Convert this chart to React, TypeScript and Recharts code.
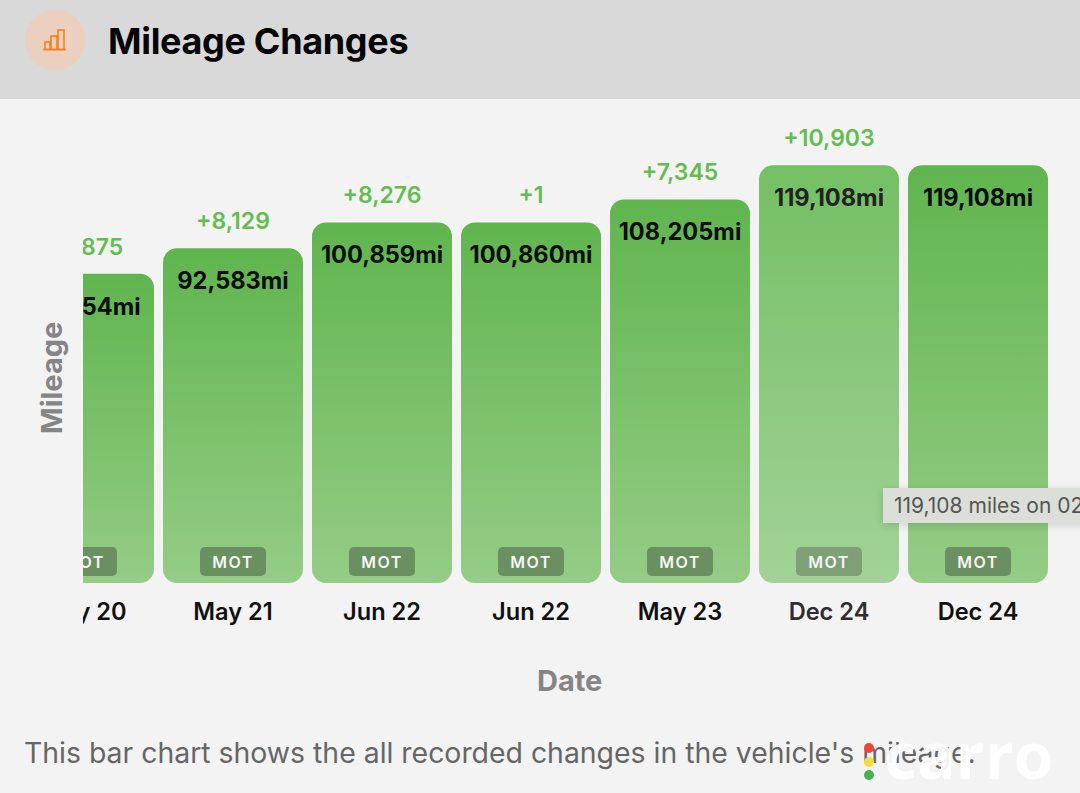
import { BarChart, Bar, XAxis, YAxis, Cell, LabelList } from "recharts";

const months = ["May 20", "May 21", "Jun 22", "Jun 22", "May 23", "Dec 24", "Dec 24"];
const mileage = [84454, 92583, 100859, 100860, 108205, 119108, 119108];
const changes = ["+8,875", "+8,129", "+8,276", "+1", "+7,345", "+10,903", "+0"];
const showChange = [true, true, true, true, true, true, false];

// The source axis doesn't start at zero, so bars run from this floor up
const Y_MIN = -14480;
const Y_MAX = 140000;
const HOVERED = 5;

const FONT = "Inter, sans-serif";

const rows = months.map((month, i) => ({
  month,
  span: [Y_MIN, mileage[i]],
  changeText: showChange[i] ? changes[i] : "",
  milesText: mileage[i].toLocaleString("en-GB") + "mi",
  badge: "MOT",
}));

function DateTick({ x, y, index, payload }: any) {
  return (
    <text
      x={x + 0.5}
      y={y + 29}
      textAnchor="middle"
      fontFamily={FONT}
      fontSize={23.6}
      fontWeight={600}
      fill={index === HOVERED ? "#2e2e2e" : "#111"}
    >
      {payload.value}
    </text>
  );
}

function ChangeLabel({ x, y, width, value }: any) {
  return (
    <text
      x={x + width / 2}
      y={y - 19}
      textAnchor="middle"
      fontFamily={FONT}
      fontSize={23}
      fontWeight={600}
      fill="#63bd50"
    >
      {value}
    </text>
  );
}

function MilesLabel({ x, y, width, value, index }: any) {
  return (
    <text
      x={x + width / 2}
      y={y + 41}
      textAnchor="middle"
      fontFamily={FONT}
      fontSize={23.6}
      fontWeight={700}
      fill={index === HOVERED ? "#222" : "#0c0c0c"}
    >
      {value}
    </text>
  );
}

function Badge({ x, y, width, height, value, index }: any) {
  const cx = x + width / 2;
  const bottom = y + height;
  return (
    <g>
      <rect
        x={cx - 33}
        y={bottom - 36}
        width={66}
        height={29}
        rx={5}
        fill={index === HOVERED ? "#7f9f77" : "#6a8f60"}
      />
      <text
        x={cx}
        y={bottom - 15.5}
        textAnchor="middle"
        fontFamily={FONT}
        fontSize={16}
        fontWeight={600}
        letterSpacing={1.5}
        fill="#f4f7f2"
      >
        {value}
      </text>
    </g>
  );
}

function ChartIcon() {
  return (
    <svg width="60" height="60" style={{ position: "absolute", left: 25, top: 10 }}>
      <circle cx="30" cy="30" r="30" fill="#ebcfbf" />
      <g fill="none" stroke="#f5811f" strokeWidth="1.6">
        <path d="M18 39.5H41" />
        <rect x="20" y="32" width="5" height="7.5" />
        <rect x="26" y="26" width="6" height="13.5" />
        <rect x="33" y="20" width="6" height="19.5" />
      </g>
    </svg>
  );
}

export default function App() {
  return (
    <div
      style={{
        position: "fixed",
        left: 0,
        top: 0,
        width: 1080,
        height: 793,
        overflow: "hidden",
        background: "#f3f3f3",
        fontFamily: FONT,
      }}
    >
      <div style={{ position: "absolute", left: 0, top: 0, width: 1080, height: 99, background: "#d9d9d9" }} />
      <ChartIcon />
      <div
        style={{
          position: "absolute",
          left: 108,
          top: 19,
          fontSize: 36,
          lineHeight: "44px",
          fontWeight: 700,
          letterSpacing: -0.33,
          color: "#050505",
          whiteSpace: "nowrap",
        }}
      >
        Mileage Changes
      </div>

      <div
        style={{
          position: "absolute",
          left: 51,
          top: 378,
          transform: "translate(-50%, -50%) rotate(-90deg)",
          fontSize: 29,
          fontWeight: 700,
          color: "#858585",
          whiteSpace: "nowrap",
        }}
      >
        Mileage
      </div>

      {/* scrolled chart: the first bar is cut off at the left edge */}
      <div style={{ position: "absolute", left: 83, top: 100, width: 997, height: 560, overflow: "hidden" }}>
        <div style={{ position: "absolute", left: -83, top: 0 }}>
          <BarChart
            width={1080}
            height={560}
            data={rows}
            margin={{ top: 0, right: 28, bottom: 0, left: 9 }}
            barSize={140}
          >
            <defs>
              <linearGradient id="barFill" x1="0" y1="0" x2="0" y2="1">
                <stop offset="0%" stopColor="#60b54e" />
                <stop offset="100%" stopColor="#95cc86" />
              </linearGradient>
              <linearGradient id="barFillHover" x1="0" y1="0" x2="0" y2="1">
                <stop offset="0%" stopColor="#74bf64" />
                <stop offset="100%" stopColor="#a2d297" />
              </linearGradient>
            </defs>
            <XAxis
              dataKey="month"
              axisLine={false}
              tickLine={false}
              interval={0}
              height={77}
              tick={<DateTick />}
            />
            <YAxis hide domain={[Y_MIN, Y_MAX]} />
            <Bar dataKey="span" radius={14} isAnimationActive={false}>
              {rows.map((r, i) => (
                <Cell key={i} fill={i === HOVERED ? "url(#barFillHover)" : "url(#barFill)"} />
              ))}
              <LabelList dataKey="changeText" content={<ChangeLabel />} />
              <LabelList dataKey="milesText" content={<MilesLabel />} />
              <LabelList dataKey="badge" content={<Badge />} />
            </Bar>
          </BarChart>
        </div>
      </div>

      <div
        style={{
          position: "absolute",
          left: 537,
          top: 663,
          fontSize: 29,
          fontWeight: 700,
          color: "#858585",
          whiteSpace: "nowrap",
        }}
      >
        Date
      </div>

      {/* hover tooltip, runs off the page in the source */}
      <div
        style={{
          position: "absolute",
          left: 883,
          top: 488,
          width: 260,
          height: 35,
          paddingLeft: 11,
          boxSizing: "border-box",
          background: "#dcdfd9",
          boxShadow: "0 2px 8px rgba(0,0,0,0.15)",
          fontSize: 21,
          lineHeight: "35px",
          color: "#555",
          whiteSpace: "nowrap",
        }}
      >
        119,108 miles on 02
      </div>

      <div
        style={{
          position: "absolute",
          left: 24,
          top: 734,
          fontSize: 28.4,
          lineHeight: "38px",
          color: "#666",
          whiteSpace: "nowrap",
        }}
      >
        This bar chart shows the all recorded changes in the vehicle's mileage.
      </div>

      {/* watermark */}
      <div style={{ position: "absolute", left: 869, top: 748, width: 0, height: 0 }}>
        <div style={{ position: "absolute", left: -5, top: -5, width: 10, height: 10, borderRadius: 5, background: "#f0443a" }} />
        <div style={{ position: "absolute", left: -5, top: 9, width: 10, height: 10, borderRadius: 5, background: "#f7dc3e" }} />
        <div style={{ position: "absolute", left: -5, top: 22, width: 10, height: 10, borderRadius: 5, background: "#4caf50" }} />
      </div>
      <div
        style={{
          position: "absolute",
          left: 884,
          top: 716,
          fontFamily: "'Open Sans', sans-serif",
          fontSize: 64,
          lineHeight: "78px",
          fontWeight: 700,
          color: "#fff",
          opacity: 0.92,
          whiteSpace: "nowrap",
        }}
      >
        carro
      </div>
    </div>
  );
}
